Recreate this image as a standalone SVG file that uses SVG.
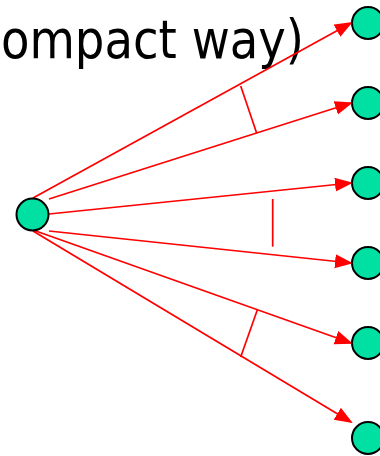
<svg xmlns="http://www.w3.org/2000/svg" width="380" height="456" viewBox="0 0 380 456">
  <style>
    .node { fill: #00E0A2; stroke: #000; stroke-width: 2; }
    .edge { stroke: #FF0000; stroke-width: 1.7; fill: none; }
    .tick { stroke: #FF0000; stroke-width: 1.7; }
    .title { font-family: "DejaVu Sans Condensed", "DejaVu Sans", sans-serif; font-size: 54px; fill: #000; }
  </style>
  <defs>
    <marker id="arrow" markerUnits="userSpaceOnUse" markerWidth="19" markerHeight="15" refX="16" refY="7" orient="auto">
      <path d="M0,0 L18,7 L0,14 Z" fill="#FF0000"/>
    </marker>
  </defs>
  <rect width="380" height="456" fill="#fff"/>

  <text class="title" x="1" y="58" textLength="303" lengthAdjust="spacingAndGlyphs">ompact way)</text>

  <!-- connectors fanning out from the source -->
  <g id="connectors">
    <line class="edge" x1="33" y1="198" x2="351" y2="23" marker-end="url(#arrow)"/>
    <line class="edge" x1="49" y1="199" x2="351" y2="103" marker-end="url(#arrow)"/>
    <line class="edge" x1="49" y1="214" x2="351" y2="183" marker-end="url(#arrow)"/>
    <line class="edge" x1="49" y1="231" x2="351" y2="263" marker-end="url(#arrow)"/>
    <line class="edge" x1="33" y1="230" x2="351" y2="343" marker-end="url(#arrow)"/>
    <line class="edge" x1="33" y1="231" x2="351" y2="422" marker-end="url(#arrow)"/>
    <!-- grouping ticks between edges -->
    <line class="tick" x1="240.7" y1="86" x2="256.7" y2="133.3"/>
    <line class="tick" x1="272.7" y1="199" x2="272.7" y2="246.7"/>
    <line class="tick" x1="257.3" y1="310" x2="240.7" y2="357"/>
  </g>

  <g id="source"><circle class="node" cx="32.5" cy="214.5" r="16"/></g>
  <g id="target1"><circle class="node" cx="368" cy="23" r="16"/></g>
  <g id="target2"><circle class="node" cx="368" cy="103" r="16"/></g>
  <g id="target3"><circle class="node" cx="368" cy="183" r="16"/></g>
  <g id="target4"><circle class="node" cx="368" cy="263" r="16"/></g>
  <g id="target5"><circle class="node" cx="368" cy="343" r="16"/></g>
  <g id="target6"><circle class="node" cx="368" cy="438" r="16"/></g>
</svg>
